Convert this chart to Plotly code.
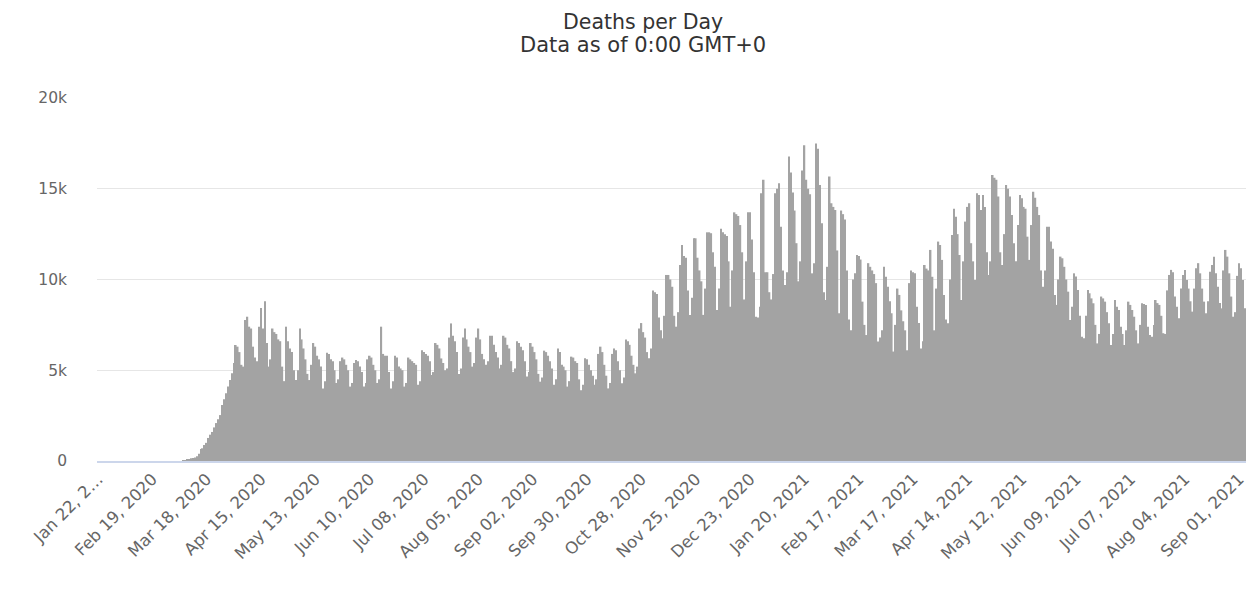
import datetime as dt
import plotly.graph_objects as go

# ---- data (daily deaths, one row per week starting Wednesday Jan 22, 2020) ----
start_date = "2020-01-22"
weekly_rows = [
    [0, 0, 0, 0, 0, 0, 0],
    [0, 0, 0, 0, 0, 0, 0],
    [0, 0, 0, 0, 0, 0, 0],
    [0, 0, 0, 0, 0, 0, 0],
    [0, 0, 0, 0, 0, 0, 0],
    [0, 0, 0, 0, 0, 0, 0],
    [0, 0, 10, 50, 70, 100, 150],
    [170, 190, 260, 400, 660, 700, 880],
    [1000, 1270, 1450, 1600, 1850, 2090, 2300],
    [2530, 3080, 3400, 3730, 4100, 4460, 4830],
    [5400, 6390, 6300, 6000, 5300, 5200, 7770],
    [7950, 7400, 7300, 6300, 5700, 5500, 7400],
    [8430, 7300, 8800, 6500, 5200, 5600, 7300],
    [7100, 7000, 6700, 6600, 5200, 4400, 7400],
    [6600, 6200, 6000, 5000, 4460, 5000, 7300],
    [6700, 6200, 5600, 4800, 4460, 5300, 6500],
    [6300, 5800, 5600, 5200, 4000, 4400, 5970],
    [5900, 5600, 5500, 5000, 4300, 4500, 5500],
    [5700, 5600, 5300, 5000, 4100, 4300, 5400],
    [5560, 5500, 5200, 4900, 4100, 4300, 5600],
    [5800, 5700, 5300, 5000, 4300, 4500, 7400],
    [5900, 5800, 5800, 4900, 4000, 4400, 5800],
    [5700, 5200, 5100, 5000, 4100, 4300, 5700],
    [5600, 5500, 5400, 5300, 4200, 4400, 6100],
    [6000, 5900, 5800, 5500, 4740, 4900, 6500],
    [6400, 6200, 5650, 5400, 5000, 5100, 6800],
    [7580, 6900, 6600, 6000, 4800, 5100, 6800],
    [7300, 6700, 6300, 6000, 5200, 5400, 6800],
    [7300, 6700, 5900, 5600, 5300, 5500, 6900],
    [6900, 6400, 6000, 5700, 5100, 5300, 6900],
    [6800, 6400, 6200, 5500, 4900, 5100, 6600],
    [6500, 6300, 6100, 5500, 4650, 4900, 6500],
    [6300, 6000, 5600, 4800, 4370, 4600, 6080],
    [6000, 5800, 5500, 5100, 4200, 4500, 6200],
    [6000, 5300, 5200, 5000, 4100, 4400, 5750],
    [5700, 5500, 5400, 4500, 3900, 4200, 5660],
    [5600, 5300, 5000, 4700, 4200, 4500, 5900],
    [6300, 6000, 5300, 4700, 4000, 4300, 5900],
    [6200, 6100, 5500, 5000, 4280, 4600, 6700],
    [6600, 6400, 5800, 5300, 4830, 5200, 7300],
    [7600, 7100, 6800, 6000, 5660, 6200, 9400],
    [9300, 9200, 7900, 7200, 6760, 8000, 10250],
    [10250, 10000, 9600, 8000, 7400, 8200, 10800],
    [11900, 11300, 11200, 9400, 8050, 9000, 12270],
    [12270, 11200, 10500, 9900, 8050, 9500, 12600],
    [12600, 12550, 11500, 10700, 8320, 9500, 12800],
    [12600, 12500, 12400, 11000, 8500, 10500, 13700],
    [13600, 13500, 13000, 11500, 8900, 11000, 13700],
    [13700, 12200, 10400, 7950, 7900, 8500, 14750],
    [15500, 10400, 10400, 9300, 8900, 10300, 14750],
    [15000, 15300, 12900, 10500, 9700, 10400, 16770],
    [15900, 14800, 13800, 12000, 9900, 11000, 16000],
    [17400, 15500, 15000, 14700, 10340, 10900, 17500],
    [17200, 15200, 13100, 9300, 8870, 10700, 15670],
    [14200, 14000, 13830, 11600, 8140, 13800, 13600],
    [13300, 10500, 7800, 7200, 10000, 10340, 11350],
    [11300, 11100, 8780, 7500, 6940, 10900, 10700],
    [10500, 10300, 9800, 6580, 6800, 7200, 10700],
    [10150, 9600, 8800, 8140, 6030, 7500, 9500],
    [9150, 8300, 7700, 7200, 6100, 9800, 10500],
    [10400, 10340, 8500, 7600, 6200, 6600, 10800],
    [10600, 10500, 11630, 10150, 7200, 9500, 12090],
    [11900, 11080, 9150, 7800, 7590, 10000, 12450],
    [13900, 13460, 12500, 11350, 8870, 11000, 13190],
    [14000, 14200, 12000, 11000, 9975, 14750, 14660],
    [13830, 14660, 14000, 11500, 10250, 11000, 15760],
    [15600, 15500, 14570, 11500, 10800, 12500, 15200],
    [15000, 14570, 13550, 12000, 11000, 13000, 14660],
    [14470, 14000, 13900, 12360, 11080, 13000, 14840],
    [14500, 14000, 13550, 10500, 9600, 10500, 12900],
    [12900, 12090, 11700, 9150, 8600, 10000, 11260],
    [11170, 10700, 10000, 9330, 7770, 8500, 10340],
    [10160, 9420, 8000, 6850, 6760, 8000, 9420],
    [9240, 8960, 8690, 7500, 6480, 7000, 9060],
    [8960, 8780, 8200, 7590, 6390, 7000, 8870],
    [8500, 8320, 7400, 7000, 6390, 7200, 8780],
    [8600, 8320, 7950, 7200, 6480, 7500, 8690],
    [8650, 8600, 7400, 6940, 6850, 7500, 8870],
    [8700, 8600, 8000, 7040, 7000, 9400, 10250],
    [10530, 10400, 9060, 8500, 7860, 9500, 10250],
    [10530, 9970, 9500, 8800, 8230, 9500, 10620],
    [10900, 10340, 9500, 8780, 8140, 8800, 10430],
    [10800, 11260, 10340, 9600, 8700, 8410, 10500],
    [11630, 11260, 10340, 9060, 7950, 8200, 10200],
    [10900, 10620, 9970, 8410],
]

tick_labels = [
    "Jan 22, 2\u2026", "Feb 19, 2020", "Mar 18, 2020", "Apr 15, 2020",
    "May 13, 2020", "Jun 10, 2020", "Jul 08, 2020", "Aug 05, 2020",
    "Sep 02, 2020", "Sep 30, 2020", "Oct 28, 2020", "Nov 25, 2020",
    "Dec 23, 2020", "Jan 20, 2021", "Feb 17, 2021", "Mar 17, 2021",
    "Apr 14, 2021", "May 12, 2021", "Jun 09, 2021", "Jul 07, 2021",
    "Aug 04, 2021", "Sep 01, 2021",
]
y_tick_values = [0, 5000, 10000, 15000, 20000]
y_tick_labels = ["0", "5k", "10k", "15k", "20k"]
title_lines = ["Deaths per Day", "Data as of 0:00 GMT+0"]

# ---- build ----
deaths = [v for row in weekly_rows for v in row]
d0 = dt.date.fromisoformat(start_date)
categories = [(d0 + dt.timedelta(days=i)).strftime("%b %d, %Y") for i in range(len(deaths))]
tick_vals = categories[::28][: len(tick_labels)]

FONT = "DejaVu Sans, Verdana, Arial, sans-serif"
W, H = 1248, 594
ML, MR, MT, MB = 97, 0, 98, 133
plot_h = H - MT - MB
plot_w = W - ML - MR

fig = go.Figure(
    go.Bar(
        x=categories,
        y=deaths,
        marker=dict(color="#a3a3a3", line=dict(width=0)),
        name="Daily Deaths",
    )
)

title_x = (644 - ML) / plot_w
fig.update_layout(
    width=W,
    height=H,
    margin=dict(l=ML, r=MR, t=MT, b=MB),
    paper_bgcolor="white",
    plot_bgcolor="white",
    bargap=0.18,
    showlegend=False,
    font=dict(family=FONT, color="#666666"),
    annotations=[
        dict(text=title_lines[0], xref="paper", yref="paper",
             x=title_x, y=(H - MB - 22) / plot_h, xanchor="center", yanchor="middle",
             showarrow=False, font=dict(family=FONT, size=20.5, color="#333333")),
        dict(text=title_lines[1], xref="paper", yref="paper",
             x=title_x, y=(H - MB - 45) / plot_h, xanchor="center", yanchor="middle",
             showarrow=False, font=dict(family=FONT, size=21, color="#333333")),
    ],
)

fig.update_xaxes(
    type="category",
    range=[-0.5, len(deaths) - 0.5],
    tickmode="array",
    tickvals=tick_vals,
    ticktext=tick_labels,
    tickangle=-45,
    tickfont=dict(family=FONT, size=16.5, color="#666666"),
    showgrid=False,
    showline=True,
    linecolor="#ccd6eb",
    linewidth=2,
    ticks="",
)

fig.update_yaxes(
    range=[0, 20000],
    tickmode="array",
    tickvals=y_tick_values,
    ticktext=y_tick_labels,
    tickfont=dict(family=FONT, size=15.5, color="#666666"),
    showgrid=True,
    gridcolor="#e6e6e6",
    gridwidth=1,
    zeroline=False,
    showline=False,
    ticks="",
    ticklabelstandoff=29,
)

fig.write_html(
    "out.html",
    config={"displayModeBar": False},
    post_script="document.body.style.margin='0';document.body.style.overflow='hidden';",
)
